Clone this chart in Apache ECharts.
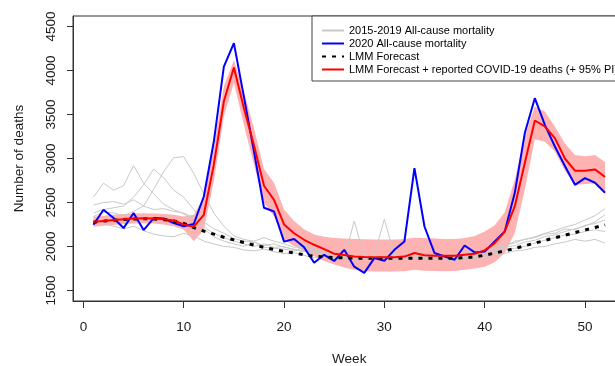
<!DOCTYPE html>
<html>
<head>
<meta charset="utf-8">
<script src="https://cdn.jsdelivr.net/npm/echarts@6/dist/echarts.min.js"></script>
<style>
  html, body { margin: 0; padding: 0; background: #fff; }
  #chart { width: 615px; height: 366px; }
</style>
</head>
<body>
<div id="chart"></div>
<script>
const weeks = [1,2,3,4,5,6,7,8,9,10,11,12,13,14,15,16,17,18,19,20,21,22,23,24,25,26,27,28,29,30,31,32,33,34,35,36,37,38,39,40,41,42,43,44,45,46,47,48,49,50,51,52];

// 2015-2019 all-cause mortality (grey)
const y2015 = [2470,2500,2510,2480,2530,2460,2650,2850,3010,3020,2830,2600,2380,2230,2120,2080,2060,2100,2060,2030,1990,2010,1960,1940,1900,1920,1890,1860,1900,2310,1900,1870,1850,1900,1890,1880,1900,1920,1940,1960,1990,2010,2040,2080,2110,2150,2180,2220,2250,2300,2350,2430];
const y2016 = [2560,2720,2640,2690,2920,2720,2600,2480,2420,2370,2300,2220,2150,2100,2060,2030,2000,2030,1990,2000,1960,1940,1980,1900,1880,1860,2290,1880,1850,1870,1840,1880,1900,1860,1880,1850,1860,1900,1880,1930,1950,1990,2010,2050,2070,2110,2130,2170,2200,2230,2280,2360];
const y2017 = [2380,2420,2440,2460,2560,2700,2880,2780,2640,2560,2420,2280,2200,2150,2090,2060,2050,2010,2030,1990,1970,1950,1920,1940,1910,1890,1870,1910,1880,1860,1900,1890,1960,1920,1880,1900,1890,1880,1920,1950,1980,2000,2060,2080,2100,2140,2150,2200,2190,2240,2260,2300];
const y2018 = [2340,2390,2380,2350,2400,2460,2420,2430,2400,2380,2330,2200,2110,2060,2030,2000,2050,1990,1980,1970,1950,1990,1930,1900,1920,1870,1900,1850,1890,1870,1920,1860,1900,1880,1850,1870,1880,1860,1890,1900,1930,1960,1980,2000,2040,2070,2100,2130,2140,2170,2190,2170];
const y2019 = [2280,2260,2230,2200,2230,2180,2140,2120,2110,2150,2120,2060,2030,2000,1990,1960,1950,1970,1940,1920,1930,1900,1870,1890,1860,1870,1850,1880,1860,1880,1860,1870,1850,1890,1860,1850,1840,1870,1860,1880,1900,1920,1950,1960,1990,2000,2030,2050,2080,2060,2080,2040];

// 2020 all-cause mortality (blue)
const y2020 = [2247,2417,2323,2209,2380,2186,2323,2318,2266,2230,2255,2568,3193,4045,4311,3700,3080,2440,2398,2055,2084,1990,1815,1905,1835,1962,1770,1700,1868,1837,1962,2057,2891,2227,1925,1886,1849,2011,1932,1943,2057,2170,2607,3289,3686,3383,3136,2915,2701,2777,2724,2610];

// LMM forecast (black dotted)
const lmm = [2275,2288,2298,2306,2312,2315,2313,2305,2290,2262,2215,2175,2140,2105,2075,2045,2015,1990,1965,1945,1925,1905,1890,1880,1873,1870,1868,1866,1865,1865,1865,1866,1866,1866,1866,1866,1868,1872,1882,1900,1925,1950,1978,2008,2038,2068,2098,2128,2158,2188,2215,2245];

// LMM forecast + reported COVID-19 deaths (red) and 95% PI
const lmmCovid = [2280,2290,2300,2310,2318,2320,2318,2310,2295,2250,2225,2360,2930,3650,4034,3570,3150,2690,2530,2250,2150,2076,2019,1970,1917,1902,1886,1880,1878,1878,1878,1885,1925,1900,1895,1894,1894,1906,1917,1955,2038,2170,2455,2948,3432,3364,3232,3000,2862,2862,2876,2790];
const piHigh = [2340,2350,2360,2368,2375,2378,2375,2370,2360,2340,2360,2560,3120,3820,4120,3760,3345,2880,2725,2420,2290,2195,2135,2110,2095,2090,2085,2082,2080,2080,2080,2085,2100,2095,2090,2085,2085,2095,2120,2170,2240,2390,2760,3250,3590,3535,3364,3170,3040,3025,3040,2960];
const piLow = [2225,2235,2245,2255,2262,2263,2260,2250,2230,2190,2060,2190,2740,3480,3860,3380,2930,2500,2340,2080,2005,1945,1890,1835,1795,1760,1735,1720,1715,1715,1715,1718,1735,1725,1720,1718,1720,1735,1750,1770,1820,1925,2150,2645,3220,3190,3080,2860,2700,2710,2715,2610];

const xTicks = [0, 10, 20, 30, 40, 50];
const yTicks = [1500, 2000, 2500, 3000, 3500, 4000, 4500];

const FONT = '"Liberation Sans", Arial, sans-serif';
const GREY = "2015-2019 All-cause mortality";
const pts = (vals) => weeks.map((w, i) => [w, vals[i]]);
const greyLine = (vals) => ({
  name: GREY, type: "line", data: pts(vals), symbol: "none",
  lineStyle: { color: "#c8c8c8", width: 1 }, itemStyle: { color: "#c8c8c8" },
});

const chart = echarts.init(document.getElementById("chart"));
chart.setOption({
  animation: false,
  grid: { left: 73, top: 16, right: -10.5, bottom: 65, outerBoundsMode: "none", containLabel: false,
    show: true, borderColor: "#333", borderWidth: 1, backgroundColor: "transparent" },
  legend: {
    orient: "vertical", left: 312, top: 16, padding: [8, 12, 5, 9],
    itemWidth: 22, itemHeight: 13, itemGap: 0,
    itemStyle: { opacity: 0 },
    backgroundColor: "#fff", borderColor: "#444", borderWidth: 1, borderRadius: 0,
    textStyle: { fontFamily: FONT, fontSize: 11, color: "#000", lineHeight: 13 },
    data: [GREY, "2020 All-cause mortality", "LMM Forecast", "LMM Forecast + reported COVID-19 deaths (+ 95% PI)"],
  },
  xAxis: {
    type: "value", min: -1.04, max: 54.04,
    name: "Week", nameLocation: "middle", nameGap: 51, nameMoveOverlap: false,
    nameTextStyle: { fontFamily: FONT, fontSize: 13.5, color: "#1a1a1a" },
    axisLine: { show: true, onZero: false, lineStyle: { color: "#333", width: 1 } },
    axisTick: { show: true, length: 7, lineStyle: { color: "#333", width: 1 }, customValues: xTicks },
    axisLabel: { fontFamily: FONT, fontSize: 13.5, color: "#1a1a1a", margin: 19, customValues: xTicks },
    splitLine: { show: false },
  },
  yAxis: {
    type: "value", min: 1380, max: 4620,
    name: "Number of deaths", nameLocation: "middle", nameGap: 47, nameRotate: 90, nameMoveOverlap: false,
    nameTextStyle: { fontFamily: FONT, fontSize: 13.5, color: "#1a1a1a" },
    axisLine: { show: true, onZero: false, lineStyle: { color: "#333", width: 1 } },
    axisTick: { show: true, length: 6, lineStyle: { color: "#333", width: 1 }, customValues: yTicks },
    axisLabel: { fontFamily: FONT, fontSize: 13.5, color: "#1a1a1a", rotate: 90, margin: 15,
      customValues: yTicks, formatter: (v) => String(v) },
    splitLine: { show: false },
  },
  series: [
    greyLine(y2015), greyLine(y2016), greyLine(y2017), greyLine(y2018), greyLine(y2019),
    { name: "2020 All-cause mortality", type: "line", data: pts(y2020), symbol: "none",
      lineStyle: { color: "#0000ff", width: 2 }, itemStyle: { color: "#0000ff" } },
    { name: "95% PI", type: "custom", silent: true, data: [[1, piLow[0]]],
      renderItem: (params, api) => {
        const up = weeks.map((w, i) => api.coord([w, piHigh[i]]));
        const lo = weeks.map((w, i) => api.coord([w, piLow[i]])).reverse();
        return { type: "polygon", shape: { points: up.concat(lo) }, style: { fill: "rgba(255,0,0,0.3)" } };
      } },
    { name: "LMM Forecast", type: "line", data: pts(lmm), symbol: "none",
      lineStyle: { color: "#000", width: 3, type: [4, 6] }, itemStyle: { color: "#000" } },
    { name: "LMM Forecast + reported COVID-19 deaths (+ 95% PI)", type: "line", data: pts(lmmCovid), symbol: "none",
      lineStyle: { color: "#ff0000", width: 2 }, itemStyle: { color: "#ff0000" } },
  ],
});
</script>
</body>
</html>
